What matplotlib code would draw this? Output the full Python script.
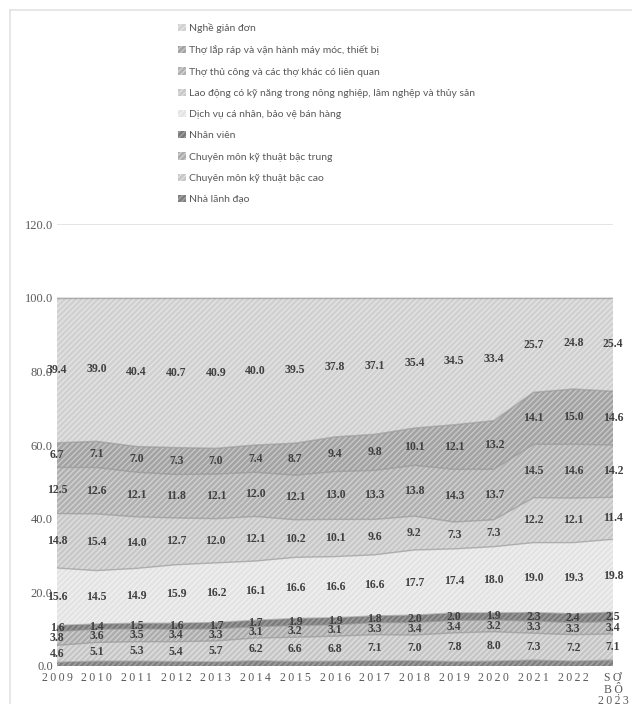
import numpy as np
import matplotlib.pyplot as plt
from matplotlib.patches import Patch

years = ["2009", "2010", "2011", "2012", "2013", "2014", "2015", "2016",
         "2017", "2018", "2019", "2020", "2021", "2022", "SƠ\nBỘ\n2023"]

# co cau lao dong theo nghe (%), xep tu duoi len
nha_lanh_dao = [1.0, 1.3, 1.3, 1.2, 1.1, 1.4, 1.2, 1.3, 1.4, 1.4, 1.2, 1.3, 1.6, 1.3, 1.6]
bac_cao = [4.6, 5.1, 5.3, 5.4, 5.7, 6.2, 6.6, 6.8, 7.1, 7.0, 7.8, 8.0, 7.3, 7.2, 7.1]
bac_trung = [3.8, 3.6, 3.5, 3.4, 3.3, 3.1, 3.2, 3.1, 3.3, 3.4, 3.4, 3.2, 3.3, 3.3, 3.4]
nhan_vien = [1.6, 1.4, 1.5, 1.6, 1.7, 1.7, 1.9, 1.9, 1.8, 2.0, 2.0, 1.9, 2.3, 2.4, 2.5]
dich_vu = [15.6, 14.5, 14.9, 15.9, 16.2, 16.1, 16.6, 16.6, 16.6, 17.7, 17.4, 18.0, 19.0, 19.3, 19.8]
nong_nghiep = [14.8, 15.4, 14.0, 12.7, 12.0, 12.1, 10.2, 10.1, 9.6, 9.2, 7.3, 7.3, 12.2, 12.1, 11.4]
thu_cong = [12.5, 12.6, 12.1, 11.8, 12.1, 12.0, 12.1, 13.0, 13.3, 13.8, 14.3, 13.7, 14.5, 14.6, 14.2]
lap_rap = [6.7, 7.1, 7.0, 7.3, 7.0, 7.4, 8.7, 9.4, 9.8, 10.1, 12.1, 13.2, 14.1, 15.0, 14.6]
gian_don = [39.4, 39.0, 40.4, 40.7, 40.9, 40.0, 39.5, 37.8, 37.1, 35.4, 34.5, 33.4, 25.7, 24.8, 25.4]

series = [
    ("Nhà lãnh đạo", nha_lanh_dao, "#7f7f7f", "#a4a4a4", False),
    ("Chuyên môn kỹ thuật bậc cao", bac_cao, "#c6c6c6", "#e0e0e0", True),
    ("Chuyên môn kỹ thuật bậc trung", bac_trung, "#adadad", "#cfcfcf", True),
    ("Nhân viên", nhan_vien, "#7a7a7a", "#a0a0a0", True),
    ("Dịch vụ cá nhân, bảo vệ bán hàng", dich_vu, "#e3e3e3", "#f1f1f1", True),
    ("Lao động có kỹ năng trong nông nghiệp, lâm nghệp và thủy sản", nong_nghiep, "#c8c8c8", "#dfdfdf", True),
    ("Thợ thủ công và các thợ khác có liên quan", thu_cong, "#b0b0b0", "#d2d2d2", True),
    ("Thợ lắp ráp và vận hành máy móc, thiết bị", lap_rap, "#a2a2a2", "#c8c8c8", True),
    ("Nghề giản đơn", gian_don, "#d0d0d0", "#e4e4e4", True),
]

x = np.arange(len(years))


def spaced(label):
    # gian chu cho nhan truc hoanh
    return "\n".join("\u2009".join(part) for part in label.split("\n"))


fig = plt.figure(figsize=(6.32, 7.04), dpi=100)
ax = fig.add_axes([57 / 632, 38 / 704, 556 / 632, 442 / 704])

ax.axhline(120, color="#e0e0e0", lw=1.2, zorder=0)

base = np.zeros(len(x))
handles = []
for name, vals, fc, hc, show in series:
    v = np.array(vals)
    top = base + v
    ax.fill_between(x, base, top, facecolor=fc, edgecolor=hc, hatch="//////",
                    linewidth=0, zorder=2)
    ax.plot(x, top, color="#909090", lw=1.0, alpha=0.6, zorder=3)
    if show:
        for xi, b, vi in zip(x, base, v):
            ax.text(xi, b + vi / 2, f"{vi:.1f}", ha="center", va="center",
                    fontsize=8.5, fontweight="bold", family="Liberation Serif",
                    color="#404040", zorder=5)
    handles.append(Patch(facecolor=fc, edgecolor=hc, hatch="//////", linewidth=0, label=name))
    base = top

ax.set_xlim(0, len(x) - 1)
ax.set_ylim(0, 120)
ax.set_yticks(np.arange(0, 121, 20))
ax.set_yticklabels([f"{t:.1f}" for t in range(0, 121, 20)],
                   family="Liberation Serif", fontsize=9, color="#595959")
ax.set_xticks(x)
ax.set_xticklabels([spaced(y) for y in years],
                   family="Liberation Serif", fontsize=8.5, color="#595959",
                   linespacing=0.9)
ax.tick_params(axis="y", length=0, pad=3)
ax.tick_params(axis="x", length=0, pad=4)
for s in ax.spines.values():
    s.set_visible(False)

fig.legend(handles=handles[::-1], loc="upper left", bbox_to_anchor=(169 / 632, 1 - 14 / 704),
           frameon=False, prop={"family": "Lato", "size": 7.5},
           labelcolor="#595959", handlelength=0.7, handleheight=0.7,
           handletextpad=0.3, labelspacing=1.15)

# khung ngoai cua bieu do
fig.add_artist(plt.Line2D([10 / 632, 10 / 632], [0, 1 - 10 / 704], color="#e3e3e3", lw=1.2))
fig.add_artist(plt.Line2D([10 / 632, 1], [1 - 10 / 704, 1 - 10 / 704], color="#e3e3e3", lw=1.2))

fig.savefig("out.png", dpi=100)
